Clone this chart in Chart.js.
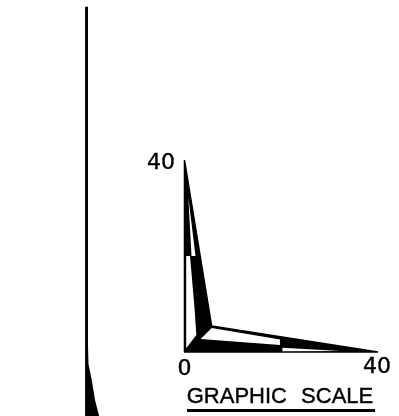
<!DOCTYPE html>
<html>
<head>
<meta charset="utf-8">
<style>
  html, body { margin: 0; padding: 0; background: #fff; }
  #wrap { width: 399px; height: 416px; position: relative; }
</style>
<script src="https://cdn.jsdelivr.net/npm/chart.js@4"></script>
</head>
<body>
<div id="wrap"><canvas id="scaleChart"></canvas></div>
<script>
// values, in graphic scale units (0..40 on both legs)
const xTickLabels = ['0', '40'];
const yTickLabels = ['40'];
const scaleTitle = 'GRAPHIC SCALE';

const outerX = [0, 0.1, 5.7, 40, 0];
const outerY = [0, 40, 5.4, 0, 0];
const upperWhiteX = [0.89, 1.55, 2.37];
const upperWhiteY = [32.3, 20, 20];
const lowerWhiteX = [0.45, 1.24, 2.2, 2.54, 0.45];
const lowerWhiteY = [20, 20, 8.75, 3.54, 0.8];
const rightWhiteX = [3.44, 5.71, 19.8, 19.8];
const rightWhiteY = [2.7, 5, 2.6, 1.46];
const sliverX = [20.3, 32.2, 20.3];
const sliverY = [0.88, 0.2, 0.15];
const sideLineX = [-20.4, -19.8, -19.8, -19.7, -19.03, -18.35, -17.5, -20.4];
const sideLineY = [71.9, 71.9, 1.5, -2.5, -5.8, -10, -13.33, -13.33];

function shape(xs, ys, color, width, order) {
    return {
        data: xs.map((x, i) => ({ x: x, y: ys[i] })),
        showLine: true,
        fill: 'shape',
        backgroundColor: color,
        borderColor: color,
        borderWidth: width,
        pointRadius: 0,
        tension: 0,
        order: order
    };
}

const labelsPlugin = {
    id: 'scaleLabels',
    afterDatasetsDraw(chart) {
        const { ctx, scales } = chart;
        ctx.save();
        ctx.fillStyle = '#000';
        ctx.strokeStyle = '#000';
        ctx.lineWidth = 0.4;
        ctx.font = '22px "DejaVu Sans", sans-serif';
        ctx.textAlign = 'center';
        ctx.textBaseline = 'alphabetic';
        const labels = [
            [xTickLabels[0], scales.x.getPixelForValue(0) + 0.5, 375],
            [xTickLabels[1], scales.x.getPixelForValue(40) - 1, 373],
            [yTickLabels[0], 161, scales.y.getPixelForValue(40) + 9]
        ];
        labels.forEach(([text, x, y]) => {
            ctx.fillText(text, x, y);
            ctx.strokeText(text, x, y);
        });
        ctx.font = '22px "Liberation Sans", sans-serif';
        ctx.wordSpacing = '8px';
        ctx.fillText(scaleTitle, 280, 403);
        ctx.strokeText(scaleTitle, 280, 403);
        ctx.fillRect(187, 409, 188, 3);
        ctx.restore();
    }
};

// lower order is drawn last, so the white cut-outs sit on top of the black
new Chart(document.getElementById('scaleChart').getContext('2d'), {
    type: 'scatter',
    data: {
        datasets: [
            shape(outerX, outerY, '#000', 1.5, 5),
            shape(upperWhiteX, upperWhiteY, '#fff', 0, 1),
            shape(lowerWhiteX, lowerWhiteY, '#fff', 0, 1),
            shape(rightWhiteX, rightWhiteY, '#fff', 0, 1),
            shape(sliverX, sliverY, '#fff', 0, 1),
            shape(sideLineX, sideLineY, '#000', 0, 5)
        ]
    },
    options: {
        responsive: true,
        maintainAspectRatio: false,
        animation: false,
        layout: { padding: 0 },
        plugins: { legend: { display: false }, tooltip: { enabled: false } },
        scales: {
            x: { display: false, min: -37.94, max: 44.33 },
            y: { display: false, min: -13.33, max: 73.33 }
        }
    },
    plugins: [labelsPlugin]
});
</script>
</body>
</html>
